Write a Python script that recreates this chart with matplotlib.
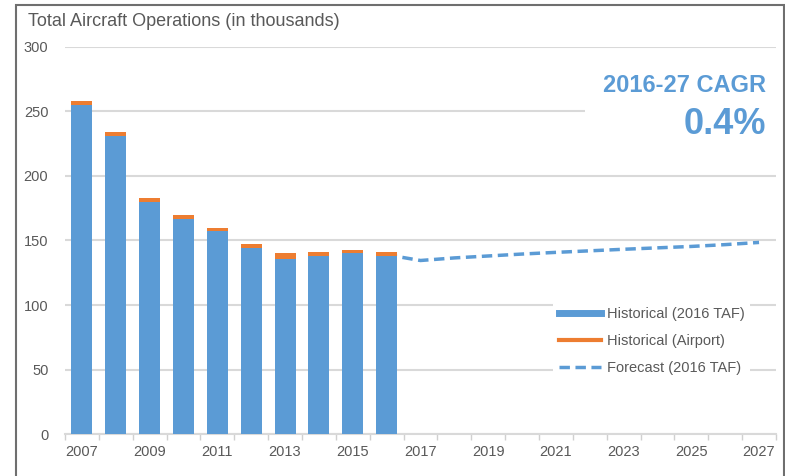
import matplotlib.pyplot as plt
from matplotlib.lines import Line2D
from matplotlib.patches import Rectangle
import numpy as np

plt.rcParams['font.family'] = ['Liberation Sans', 'DejaVu Sans']

years = list(range(2007, 2028))
hist_years = list(range(2007, 2017))
hist_taf = [255, 231, 180, 167, 157, 144, 136, 138, 140, 138]
hist_airport = [3, 3, 3, 3, 3, 3, 4, 3, 3, 3]
fc_years = list(range(2016, 2028))
forecast = [139, 134.5, 136.5, 138, 139.5, 140.8, 142, 143.2, 144.3, 145.4, 146.8, 148.5]

blue = '#5b9bd5'
orange = '#ed7d31'
gray = '#595959'

fig = plt.figure(figsize=(7.85, 4.76), dpi=100)
ax = fig.add_axes([0.0828, 0.0882, 0.9057, 0.8131])

pos = {y: i for i, y in enumerate(years)}
hx = np.array([pos[y] for y in hist_years])
fx = np.array([pos[y] for y in fc_years])

ax.plot(fx, forecast, color=blue, lw=2.5, ls=(0, (3, 1.6)), zorder=2)
ax.bar(hx, hist_taf, width=0.62, color=blue, zorder=3)
ax.bar(hx, hist_airport, width=0.62, bottom=hist_taf, color=orange, zorder=3)

ax.set_xlim(-0.5, len(years) - 0.5)
ax.set_ylim(0, 300)
ax.set_yticks(range(0, 301, 50))
ax.yaxis.grid(True, color='#d9d9d9', lw=1.5)
ax.set_axisbelow(True)
ax.set_xticks(range(0, len(years), 2))
ax.set_xticklabels([str(y) for y in years[::2]])
ax.set_xticks(np.arange(-0.5, len(years), 1), minor=True)
ax.tick_params(axis='x', which='major', length=0, pad=8, labelsize=10.5, labelcolor=gray)
ax.tick_params(axis='x', which='minor', length=4, color='#d0d0d0', width=1)
ax.tick_params(axis='y', length=0, pad=12, labelsize=10.5, labelcolor=gray)
for s in ['top', 'right', 'left']:
    ax.spines[s].set_visible(False)
ax.spines['bottom'].set_color('#d9d9d9')
ax.spines['bottom'].set_linewidth(1.5)

# white box behind the CAGR note hides the gridline there
ax.add_patch(Rectangle((585 / 785, 1 - 150 / 476), (778 - 585) / 785, (150 - 62) / 476,
                       transform=fig.transFigure, facecolor='white', edgecolor='none',
                       zorder=1.5))

fig.text(28 / 785, 1 - 22 / 476, 'Total Aircraft Operations (in thousands)',
         fontsize=13, color=gray, va='center', ha='left')
fig.text(766 / 785, 1 - 86 / 476, '2016-27 CAGR', fontsize=17, fontweight='bold',
         color=blue, ha='right', va='center')
fig.text(766 / 785, 1 - 124 / 476, '0.4%', fontsize=26, fontweight='bold',
         color=blue, ha='right', va='center')

handles = [
    Line2D([], [], color=blue, lw=5),
    Line2D([], [], color=orange, lw=3),
    Line2D([], [], color=blue, lw=2.5, ls=(0, (3, 1.6))),
]
labels = ['Historical (2016 TAF)', 'Historical (Airport)', 'Forecast (2016 TAF)']
leg = ax.legend(handles, labels, loc='center left', bbox_to_anchor=(0.686, 0.24),
                frameon=True, framealpha=1, edgecolor='none', facecolor='white',
                fontsize=10.5, labelspacing=0.9, handlelength=2.9, handletextpad=0.4,
                borderaxespad=0)
for t in leg.get_texts():
    t.set_color(gray)

fig.patches.append(Rectangle((16 / 785, -0.1), (784 - 16) / 785, 1.1 - 5 / 476,
                             transform=fig.transFigure, fill=False,
                             edgecolor='#6f6f6f', lw=1.5))

fig.savefig('out.png', dpi=100)
